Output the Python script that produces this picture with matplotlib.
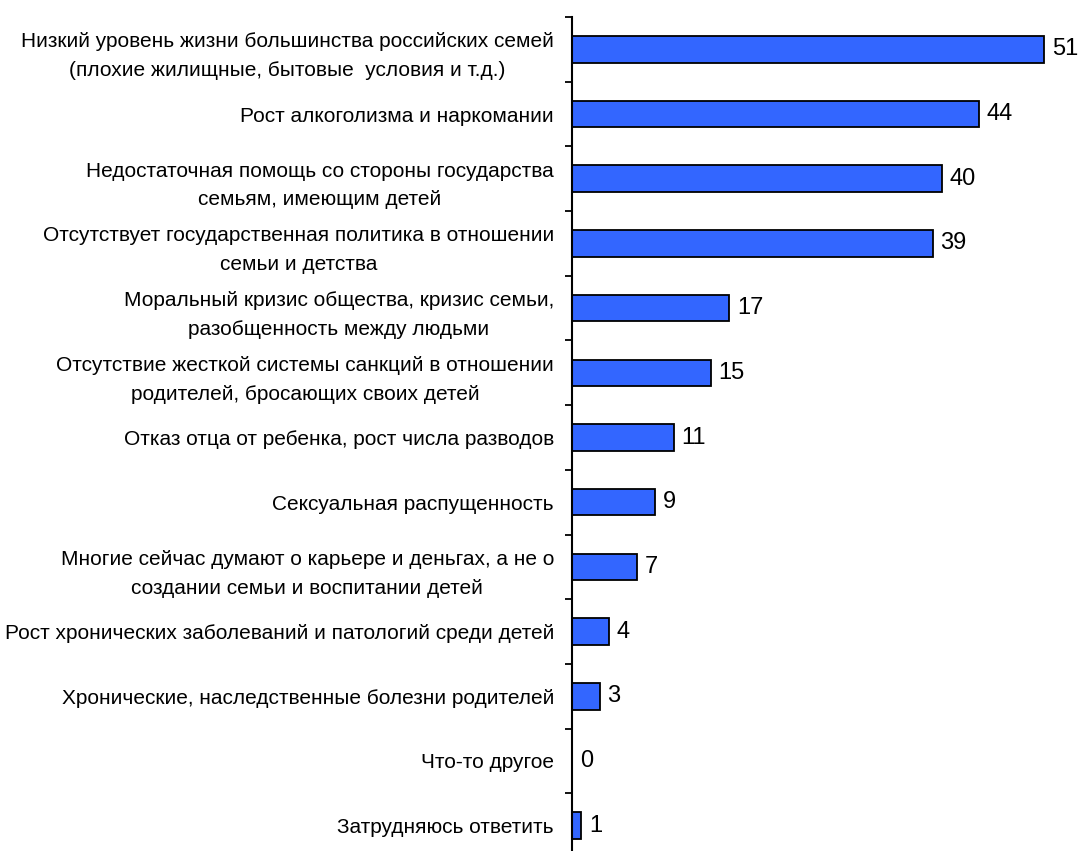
import matplotlib.pyplot as plt
from matplotlib.ticker import FixedLocator

# Данные
prichiny = [
    "Низкий уровень жизни большинства российских семей\n(плохие жилищные, бытовые  условия и т.д.)",
    "Рост алкоголизма и наркомании",
    "Недостаточная помощь со стороны государства\nсемьям, имеющим детей",
    "Отсутствует государственная политика в отношении\nсемьи и детства",
    "Моральный кризис общества, кризис семьи,\nразобщенность между людьми",
    "Отсутствие жесткой системы санкций в отношении\nродителей, бросающих своих детей",
    "Отказ отца от ребенка, рост числа разводов",
    "Сексуальная распущенность",
    "Многие сейчас думают о карьере и деньгах, а не о\nсоздании семьи и воспитании детей",
    "Рост хронических заболеваний и патологий среди детей",
    "Хронические, наследственные болезни родителей",
    "Что-то другое",
    "Затрудняюсь ответить",
]
procenta = [51, 44, 40, 39, 17, 15, 11, 9, 7, 4, 3, 0, 1]

font = ['Liberation Sans', 'DejaVu Sans']

fig = plt.figure(figsize=(10.81, 8.51), dpi=100)
ax = fig.add_axes([572 / 1081, -7 / 851, 1 - 572 / 1081, 841 / 851])

poz = list(range(len(procenta)))
ax.barh(poz, procenta, height=0.41, color='#3366FF', edgecolor='black', linewidth=1.3)

ax.set_xlim(0, 55)
ax.set_ylim(len(procenta) - 0.5, -0.5)

# Hodnoty pri stĺpcoch
for y, v in zip(poz, procenta):
    ax.annotate(str(v), (v, y), xytext=(5.5, 0), textcoords='offset points',
                va='center', ha='left', fontsize=17, family=font)

# Os
for s in ['top', 'right', 'bottom']:
    ax.spines[s].set_visible(False)
ax.spines['left'].set_linewidth(1.5)
ax.xaxis.set_visible(False)

ax.set_yticks(poz)
ax.set_yticklabels(prichiny)
ax.tick_params(axis='y', which='major', length=0, pad=13)
ax.yaxis.set_minor_locator(FixedLocator([p - 0.5 for p in range(len(procenta) + 1)]))
ax.tick_params(axis='y', which='minor', length=5, width=1.3, direction='out')
for t in ax.get_yticklabels():
    t.set_family(font)
    t.set_fontsize(15)
    t.set_multialignment('center')
    t.set_linespacing(1.65)

fig.savefig('out.png', dpi=100)
